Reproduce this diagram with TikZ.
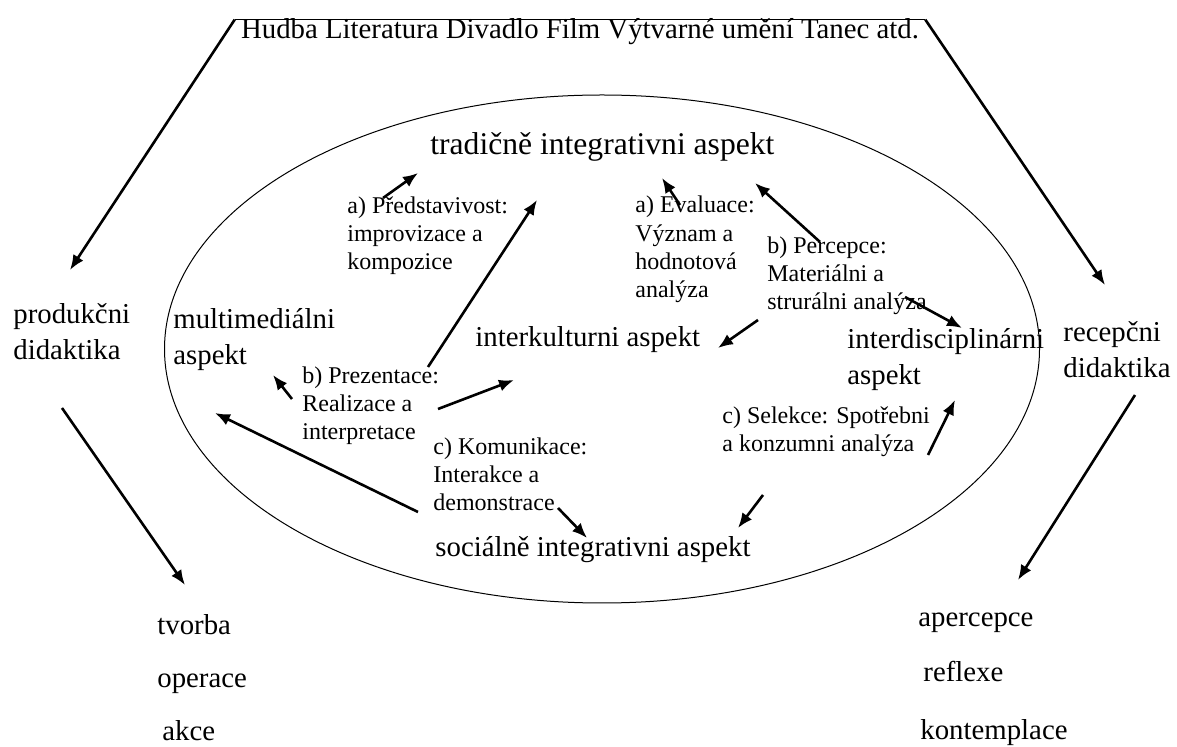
\documentclass[tikz,border=0pt]{standalone}
\usepackage{fontspec}
\setmainfont{Liberation Serif}
\usetikzlibrary{arrows.meta}

\tikzset{
  big/.style={font=\fontsize{14.4}{18}\selectfont, inner sep=0pt, align=left},
  small/.style={font=\fontsize{12}{14.2}\selectfont, inner sep=0pt, align=left},
  arr/.style={-{Latex[length=7.5pt,width=6pt]}, line width=1.3pt}
}

\begin{document}
\begin{tikzpicture}[x=0.5pt,y=-0.5pt]
\useasboundingbox (0,0) rectangle (1177,747);

\node[big, anchor=base, text height=9.5pt, inner xsep=3pt] (arts) at (580,39) {Hudba Literatura Divadlo Film Výtvarné umění Tanec atd.};
\draw[line width=0.8pt] (arts.north west) -- (arts.north east);

\draw[line width=0.5pt] (602,349) ellipse [x radius=218.75pt, y radius=127pt];

% multi-line nodes: base = last line
\node[big, anchor=base west] (prod) at (13,360) {produkčni\\didaktika};
\node[big, anchor=base west] (rec) at (1063,378) {recepčni\\didaktika};

\node[big, anchor=base west, font=\fontsize{15.8}{18}\selectfont] (trad) at (430,155) {tradičně integrativni aspekt};
\node[big, anchor=base west] (multi) at (173,365) {multimediálni\\aspekt};
\node[big, anchor=base west] (inter) at (475,347) {interkulturni aspekt};
\node[big, anchor=base west] (disc) at (847,385) {interdisciplinárni\\aspekt};
\node[big, anchor=base west] (soc) at (435,557) {sociálně integrativni aspekt};

\node[small, anchor=base west] (pred) at (347,270) {a) Představivost:\\improvizace a\\kompozice};
\node[small, anchor=base west] (eval) at (635,298) {a) Evaluace:\\Význam a\\hodnotová\\analýza};
\node[small, anchor=base west] (perc) at (767,310) {b) Percepce:\\Materiálni a\\strurálni analýza};
\node[small, anchor=base west] (prez) at (302,440) {b) Prezentace:\\Realizace a\\interpretace};
\node[small, anchor=base west] (komu) at (433,511) {c) Komunikace:\\Interakce a\\demonstrace};
\node[small, anchor=base west] (sel) at (722,452) {c) Selekce: Spotřebni\\a konzumni analýza};

\node[big, anchor=base west] (tvorba) at (157,635) {tvorba};
\node[big, anchor=base west] (operace) at (157,687) {operace};
\node[big, anchor=base west] (akce) at (162,740) {akce};
\node[big, anchor=base west] (aperc) at (918,627) {apercepce};
\node[big, anchor=base west] (reflexe) at (923,682) {reflexe};
\node[big, anchor=base west] (kontemp) at (920,739) {kontemplace};

% arrow ends
\coordinate (prodIn) at (70,270);
\coordinate (recIn) at (1105,285);
\coordinate (prodOut) at (62,408);
\coordinate (tvorbaIn) at (185,585);
\coordinate (recOut) at (1135,395);
\coordinate (apercIn) at (1018,580);

\draw[arr] (arts.north west) -- (prodIn);
\draw[arr] (arts.north east) -- (recIn);
\draw[arr] (prodOut) -- (tvorbaIn);
\draw[arr] (recOut) -- (apercIn);

\coordinate (predA) at (383,198);  \coordinate (tradA) at (418,173);
\coordinate (prezA) at (428,367);  \coordinate (tradB) at (537,200);
\coordinate (prezB) at (292,399);  \coordinate (multiA) at (273,375);
\coordinate (prezC) at (438,409);  \coordinate (interA) at (514,380);
\coordinate (komuA) at (418,512);  \coordinate (multiB) at (215,413);
\coordinate (komuB) at (558,508);  \coordinate (socA) at (587,538);
\coordinate (selA) at (763,495);   \coordinate (socB) at (738,528);
\coordinate (selB) at (928,455);   \coordinate (discA) at (955,400);
\coordinate (evalA) at (680,205);  \coordinate (tradC) at (662,178);
\coordinate (percA) at (820,242);  \coordinate (tradD) at (755,183);
\coordinate (percB) at (905,297);  \coordinate (discB) at (962,328);
\coordinate (percC) at (758,320);  \coordinate (interB) at (718,348);

\draw[arr] (predA) -- (tradA);
\draw[arr] (prezA) -- (tradB);
\draw[arr] (prezB) -- (multiA);
\draw[arr] (prezC) -- (interA);
\draw[arr] (komuA) -- (multiB);
\draw[arr] (komuB) -- (socA);
\draw[arr] (selA) -- (socB);
\draw[arr] (selB) -- (discA);
\draw[arr] (evalA) -- (tradC);
\draw[arr] (percA) -- (tradD);
\draw[arr] (percB) -- (discB);
\draw[arr] (percC) -- (interB);
\end{tikzpicture}
\end{document}
